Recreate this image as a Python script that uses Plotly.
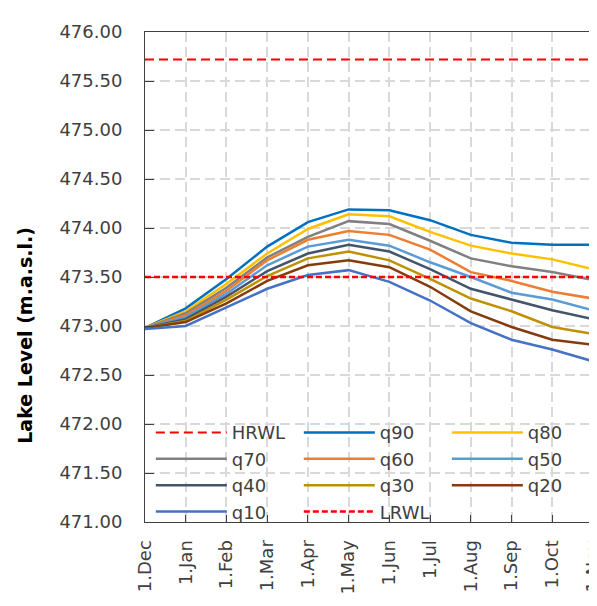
import plotly.graph_objects as go

months = ["1.Dec", "1.Jan", "1.Feb", "1.Mar", "1.Apr", "1.May", "1.Jun",
          "1.Jul", "1.Aug", "1.Sep", "1.Oct", "1.Nov"]

hrwl = [475.72, 475.72, 475.72, 475.72, 475.72, 475.72, 475.72, 475.72, 475.72, 475.72, 475.72, 475.72]
lrwl = [473.50, 473.50, 473.50, 473.50, 473.50, 473.50, 473.50, 473.50, 473.50, 473.50, 473.50, 473.50]
q90 = [472.98, 473.18, 473.48, 473.81, 474.06, 474.19, 474.18, 474.08, 473.93, 473.85, 473.83, 473.83]
q80 = [472.98, 473.15, 473.43, 473.74, 473.99, 474.14, 474.12, 473.96, 473.82, 473.74, 473.68, 473.58]
q70 = [472.98, 473.13, 473.39, 473.70, 473.91, 474.07, 474.04, 473.87, 473.69, 473.61, 473.55, 473.47]
q60 = [472.98, 473.11, 473.36, 473.67, 473.88, 473.97, 473.93, 473.78, 473.55, 473.46, 473.35, 473.28]
q50 = [472.98, 473.09, 473.33, 473.62, 473.81, 473.88, 473.82, 473.65, 473.50, 473.34, 473.27, 473.16]
q40 = [472.98, 473.07, 473.30, 473.56, 473.74, 473.83, 473.76, 473.58, 473.38, 473.27, 473.16, 473.07]
q30 = [472.98, 473.05, 473.27, 473.51, 473.69, 473.76, 473.67, 473.48, 473.28, 473.15, 472.99, 472.92]
q20 = [472.98, 473.04, 473.23, 473.46, 473.62, 473.67, 473.60, 473.40, 473.15, 472.99, 472.86, 472.81]
q10 = [472.97, 473.00, 473.19, 473.38, 473.52, 473.57, 473.45, 473.26, 473.03, 472.86, 472.76, 472.64]

y_ticks = [471.0, 471.5, 472.0, 472.5, 473.0, 473.5, 474.0, 474.5, 475.0, 475.5, 476.0]

xi = list(range(len(months)))

series = [
    ("q90", q90, "#0070C0"),
    ("q80", q80, "#FFC000"),
    ("q70", q70, "#808080"),
    ("q60", q60, "#ED7D31"),
    ("q50", q50, "#5B9BD5"),
    ("q40", q40, "#44546A"),
    ("q30", q30, "#BF9000"),
    ("q20", q20, "#843C0C"),
    ("q10", q10, "#4472C4"),
]

FONT = "DejaVu Sans"
TXT = "#404040"

fig = go.Figure()
fig.add_trace(go.Scatter(x=xi, y=hrwl, mode="lines", name="HRWL",
                         line=dict(color="#FF0000", width=2, dash="9px,5px")))
for name, vals, col in series:
    fig.add_trace(go.Scatter(x=xi, y=vals, mode="lines", name=name,
                             line=dict(color=col, width=2.5)))
fig.add_trace(go.Scatter(x=xi, y=lrwl, mode="lines", name="LRWL",
                         line=dict(color="#FF0000", width=2.5, dash="6px,3px")))

# page body adds an 8px offset; figure is sized to fill the window after it
fig.update_layout(
    width=589, height=598,
    margin=dict(l=137, r=4, t=24, b=84, autoexpand=False),
    plot_bgcolor="white", paper_bgcolor="white",
    font=dict(family=FONT, size=18, color=TXT),
    showlegend=True,
    legend=dict(
        orientation="h", x=0.013, y=0.22, xanchor="left", yanchor="top",
        bgcolor="rgba(0,0,0,0)", entrywidth=62, entrywidthmode="pixels",
        itemwidth=71, font=dict(family=FONT, size=18, color=TXT),
        traceorder="normal",
    ),
    xaxis=dict(
        range=[0, len(months) - 1], tickmode="array", tickvals=xi, ticktext=months,
        tickangle=-90, showgrid=True, gridcolor="#D9D9D9", gridwidth=2,
        griddash="10px,5px", showline=True, linecolor="#404040", linewidth=1,
        mirror=True, ticks="inside", ticklen=7, tickcolor="#404040",
        ticklabelstandoff=10, zeroline=False, automargin=False,
        ticklabeloverflow="allow",
        tickfont=dict(family=FONT, size=18, color=TXT),
    ),
    yaxis=dict(
        range=[471, 476], tickmode="array", tickvals=y_ticks,
        ticktext=[f"{v:.2f}" for v in y_ticks],
        showgrid=True, gridcolor="#D9D9D9", gridwidth=2, griddash="10px,5px",
        showline=True, linecolor="#404040", linewidth=1, mirror=True,
        ticks="inside", ticklen=9, tickcolor="#404040", ticklabelstandoff=18,
        zeroline=False, automargin=False, ticklabeloverflow="allow",
        tickfont=dict(family=FONT, size=18, color=TXT),
    ),
    annotations=[dict(
        text="<b>Lake Level (m.a.s.l.)</b>", textangle=-90,
        xref="paper", yref="paper", x=-0.268, y=0.382,
        xanchor="center", yanchor="middle", showarrow=False,
        font=dict(family=FONT, size=19, color="#000000"),
    )],
)

fig.write_html("out.html")
